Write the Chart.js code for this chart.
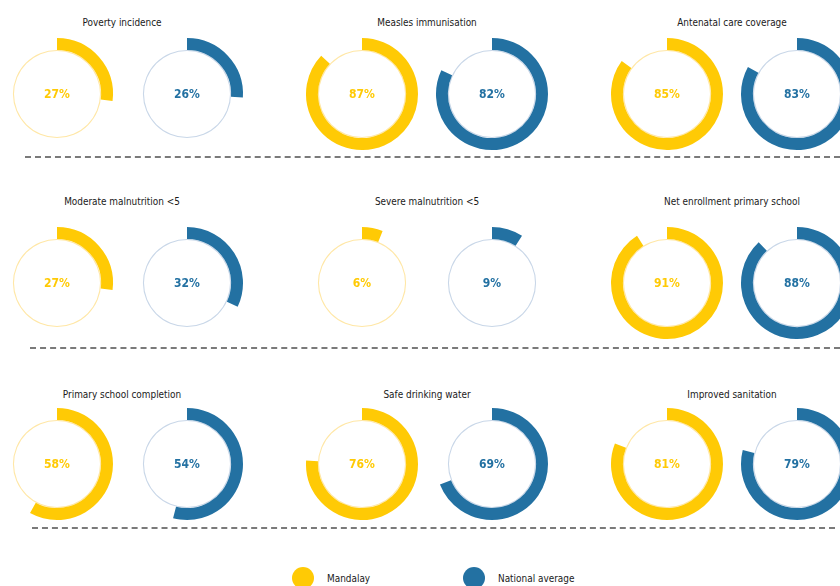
<!DOCTYPE html>
<html>
<head>
<meta charset="utf-8">
<script src="https://cdn.jsdelivr.net/npm/chart.js@4.4.1/dist/chart.umd.min.js"></script>
<style>
  body { margin: 0; background: #fff; width: 840px; height: 586px; overflow: hidden; position: relative;
         font-family: "DejaVu Sans Condensed", "Liberation Sans Narrow", "Roboto", sans-serif; }
  canvas { position: absolute; }
  .title { position: absolute; text-align: center; font-size: 11px; color: #1a1a1a;
           transform: translate(-50%, -50%) scaleX(0.9); white-space: nowrap; }
  .rule { position: absolute; height: 0; border-top: 2px dashed #7a7a7a; }
  .dot { position: absolute; width: 22px; height: 22px; border-radius: 50%; }
  .leg { position: absolute; font-size: 11px; color: #1a1a1a; transform-origin: left center;
         transform: translateY(-50%) scaleX(0.9); white-space: nowrap; }
</style>
</head>
<body>
<script>
// indicators (left to right, top to bottom)
const titles = [
  "Poverty incidence", "Measles immunisation", "Antenatal care coverage",
  "Moderate malnutrition <5", "Severe malnutrition <5", "Net enrollment primary school",
  "Primary school completion", "Safe drinking water", "Improved sanitation"
];
const mandalay = [27, 87, 85, 27, 6, 91, 58, 76, 81];
const national = [26, 82, 83, 32, 9, 88, 54, 69, 79];
const seriesNames = ["Mandalay", "National average"];

const colors = ["#FFCA05", "#2371A2"];
const lightColors = ["#FFE7A6", "#C9D7E8"];

// layout
const colX = [57, 362, 667];
const pairGap = 130;
const rowY = [94, 283, 464];
const titleY = [22, 201, 394];
const SIZE = 124;
const OUTER = 56;
const INNER = 43;

const centerText = {
  id: "centerText",
  afterDatasetsDraw(chart, args, opts) {
    const arc = chart.getDatasetMeta(0).data[0];
    const ctx = chart.ctx;
    ctx.save();
    ctx.font = "bold 12px 'DejaVu Sans Condensed', 'Liberation Sans Narrow', sans-serif";
    ctx.fillStyle = opts.color;
    ctx.textAlign = "center";
    ctx.textBaseline = "middle";
    ctx.fillText(opts.text, arc.x, arc.y + 1);
    ctx.restore();
  }
};

function makeDonut(cx, cy, value, s) {
  const cv = document.createElement("canvas");
  cv.width = SIZE;
  cv.height = SIZE;
  cv.style.left = (cx - SIZE / 2) + "px";
  cv.style.top = (cy - SIZE / 2) + "px";
  document.body.appendChild(cv);

  new Chart(cv, {
    type: "doughnut",
    data: {
      labels: [seriesNames[s], ""],
      datasets: [
        {
          data: [value, 100 - value],
          backgroundColor: [colors[s], "rgba(0,0,0,0)"],
          borderWidth: 0,
          weight: 12
        },
        {
          data: [100],
          backgroundColor: [lightColors[s]],
          borderWidth: 0,
          weight: 1.1
        }
      ]
    },
    options: {
      responsive: false,
      animation: false,
      devicePixelRatio: 1,
      radius: OUTER,
      cutout: (INNER / OUTER * 100) + "%",
      events: [],
      plugins: {
        legend: { display: false },
        tooltip: { enabled: false },
        centerText: { text: value + "%", color: colors[s] }
      }
    },
    plugins: [centerText]
  });
}

titles.forEach((t, i) => {
  const r = Math.floor(i / 3);
  const c = i % 3;
  const x = colX[c];
  makeDonut(x, rowY[r], mandalay[i], 0);
  makeDonut(x + pairGap, rowY[r], national[i], 1);

  const el = document.createElement("div");
  el.className = "title";
  el.textContent = t;
  el.style.left = (x + pairGap / 2) + "px";
  el.style.top = titleY[r] + "px";
  document.body.appendChild(el);
});

// dashed separators
[[25, 157, 815], [30, 348, 810], [32, 528, 803]].forEach(([x, y, w]) => {
  const d = document.createElement("div");
  d.className = "rule";
  d.style.left = x + "px";
  d.style.top = (y - 1) + "px";
  d.style.width = w + "px";
  document.body.appendChild(d);
});

// legend
const legX = [292, 463];
seriesNames.forEach((name, s) => {
  const dot = document.createElement("div");
  dot.className = "dot";
  dot.style.background = colors[s];
  dot.style.left = legX[s] + "px";
  dot.style.top = "567px";
  document.body.appendChild(dot);

  const lab = document.createElement("div");
  lab.className = "leg";
  lab.textContent = name;
  lab.style.left = (legX[s] + 35) + "px";
  lab.style.top = "578px";
  document.body.appendChild(lab);
});
</script>
</body>
</html>
